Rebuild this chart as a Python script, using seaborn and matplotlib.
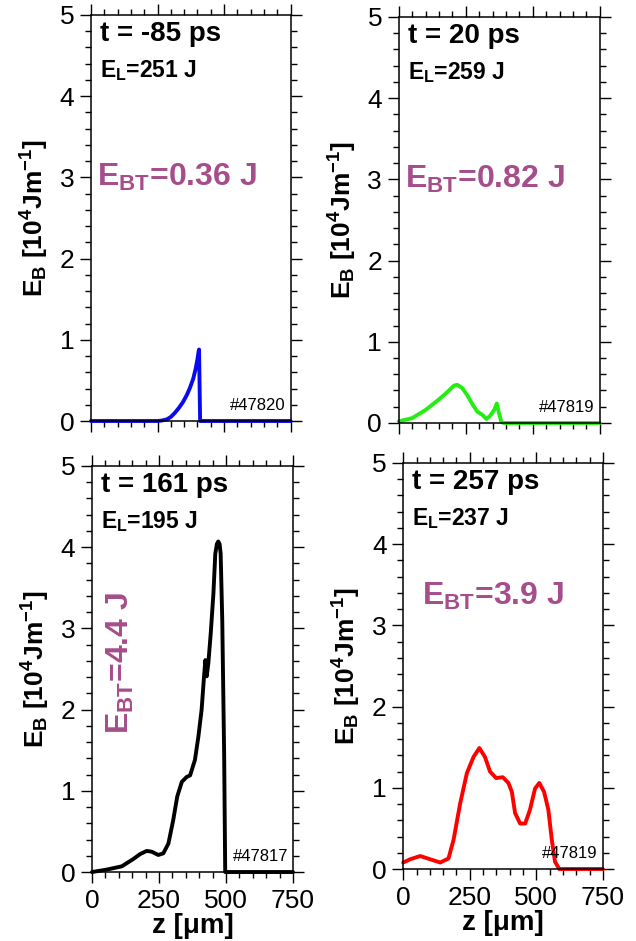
import numpy as np
import pandas as pd
import seaborn as sns
import matplotlib
matplotlib.use('Agg')
import matplotlib.pyplot as plt
from matplotlib.ticker import MultipleLocator

# data (z in um, E_B in 1e4 J/m)
z_85 = [0, 250, 265, 285, 300, 315, 330, 345, 360, 372, 384, 393, 400, 404, 406, 410, 750]
e_85 = [0, 0, 0.005, 0.02, 0.05, 0.10, 0.16, 0.23, 0.32, 0.41, 0.52, 0.64, 0.76, 0.85, 0.88, 0, 0]

z_20 = [0, 50, 100, 150, 181, 206, 218, 237, 256, 275, 293, 312, 327, 339, 356, 366, 374, 383, 393, 750]
e_20 = [0.02, 0.06, 0.16, 0.29, 0.38, 0.46, 0.47, 0.43, 0.34, 0.23, 0.14, 0.10, 0.05, 0.08, 0.16, 0.24,
        0.12, 0.01, 0, 0]

z_161 = [0, 55, 111, 154, 179, 204, 223, 247, 266, 285, 303, 318, 335, 353, 366, 384, 397, 409,
         418, 423, 428, 434, 443, 453, 460, 466, 471, 476, 480, 486, 493, 497, 750]
e_161 = [0, 0.03, 0.07, 0.16, 0.22, 0.26, 0.25, 0.21, 0.23, 0.35, 0.64, 0.93, 1.11, 1.17, 1.19, 1.38,
         1.67, 2.00, 2.41, 2.61, 2.41, 2.57, 2.94, 3.43, 3.92, 4.04, 4.07, 4.04, 3.92, 3.10, 1.46, 0, 0]

z_257 = [0, 26, 64, 101, 139, 170, 189, 214, 239, 264, 286, 307, 326, 349, 374, 395, 408, 420,
         439, 458, 476, 495, 511, 529, 545, 558, 570, 586, 750]
e_257 = [0.08, 0.12, 0.16, 0.12, 0.08, 0.13, 0.36, 0.81, 1.18, 1.38, 1.49, 1.38, 1.20, 1.12, 1.13, 1.06,
         0.95, 0.69, 0.56, 0.56, 0.73, 0.99, 1.06, 0.95, 0.73, 0.36, 0.09, 0, 0]

times = ['t = -85 ps', 't = 20 ps', 't = 161 ps', 't = 257 ps']
laser = ['251', '259', '195', '237']
beam = ['0.36', '0.82', '4.4', '3.9']
shots = ['#47820', '#47819', '#47817', '#47819']
colors = ['#0a0aee', '#22ee11', '#000000', '#ff0000']

sns.set_theme(style='ticks')
plt.rcParams['font.family'] = ['Liberation Sans', 'DejaVu Sans']
plt.rcParams['mathtext.fontset'] = 'custom'
plt.rcParams['mathtext.rm'] = 'Liberation Sans'
plt.rcParams['mathtext.bf'] = 'Liberation Sans:bold'
plt.rcParams['mathtext.it'] = 'Liberation Sans:italic'
for k in ['text.color', 'axes.labelcolor', 'xtick.color', 'ytick.color', 'axes.edgecolor']:
    plt.rcParams[k] = 'black'

purple = '#a64d8b'

fig = plt.figure(figsize=(6.36, 9.41), dpi=100)
boxes = [[0.143, 0.5526, 0.314, 0.4315],
         [0.627, 0.5505, 0.316, 0.4315],
         [0.1447, 0.0733, 0.316, 0.4315],
         [0.634, 0.0765, 0.314, 0.4315]]
curves = [(z_85, e_85), (z_20, e_20), (z_161, e_161), (z_257, e_257)]

for i in range(4):
    ax = fig.add_axes(boxes[i])
    df = pd.DataFrame({'z': curves[i][0], 'E': curves[i][1]})
    sns.lineplot(data=df, x='z', y='E', ax=ax, color=colors[i], lw=2.8, sort=False)
    for ln in ax.lines:
        ln.set_clip_on(False)
        ln.set_solid_joinstyle('round')
        ln.set_solid_capstyle('round')

    ax.set_xlim(0, 750)
    ax.set_ylim(0, 5)
    ax.xaxis.set_major_locator(MultipleLocator(250))
    ax.xaxis.set_minor_locator(MultipleLocator(50))
    ax.yaxis.set_major_locator(MultipleLocator(1))
    ax.yaxis.set_minor_locator(MultipleLocator(0.2))
    ax.tick_params(which='both', direction='out', top=True, right=True, color='black', width=1)
    ax.tick_params(which='major', length=8, labelsize=19, pad=4)
    ax.tick_params(which='minor', length=4)
    for sp in ax.spines.values():
        sp.set_linewidth(1.1)
        sp.set_color('black')

    ax.set_ylabel(r'E$_\mathbf{B}$ [10$^\mathbf{4}$Jm$^\mathbf{-1}$]', fontsize=19, fontweight='bold')
    ax.yaxis.set_label_coords(-0.2, 0.5)
    if i < 2:
        ax.set_xlabel('')
        ax.tick_params(labelbottom=False)
    else:
        ax.set_xlabel('z [μm]', fontsize=20, fontweight='bold', labelpad=0)

    ax.text(0.045, 0.952, times[i], transform=ax.transAxes, fontsize=20,
            fontweight='bold', va='center', ha='left')
    ax.text(0.045, 0.862, r'E$_\mathbf{L}$=' + laser[i] + ' J', transform=ax.transAxes,
            fontsize=16.5, fontweight='bold', va='center', ha='left')
    ax.text(0.975, 0.028, shots[i], transform=ax.transAxes, fontsize=12,
            va='baseline', ha='right')

    label = r'E$_\mathbf{BT}$=' + beam[i] + ' J'
    if i == 2:
        ax.text(0.14, 0.515, label, transform=ax.transAxes, fontsize=23, color=purple,
                fontweight='bold', rotation=90, va='center', ha='center')
    elif i == 3:
        ax.text(0.095, 0.65, label, transform=ax.transAxes, fontsize=23, color=purple,
                fontweight='bold', va='baseline', ha='left')
    else:
        ax.text(0.03, 0.578, label, transform=ax.transAxes, fontsize=23, color=purple,
                fontweight='bold', va='baseline', ha='left')

fig.savefig('out.png', dpi=100)
